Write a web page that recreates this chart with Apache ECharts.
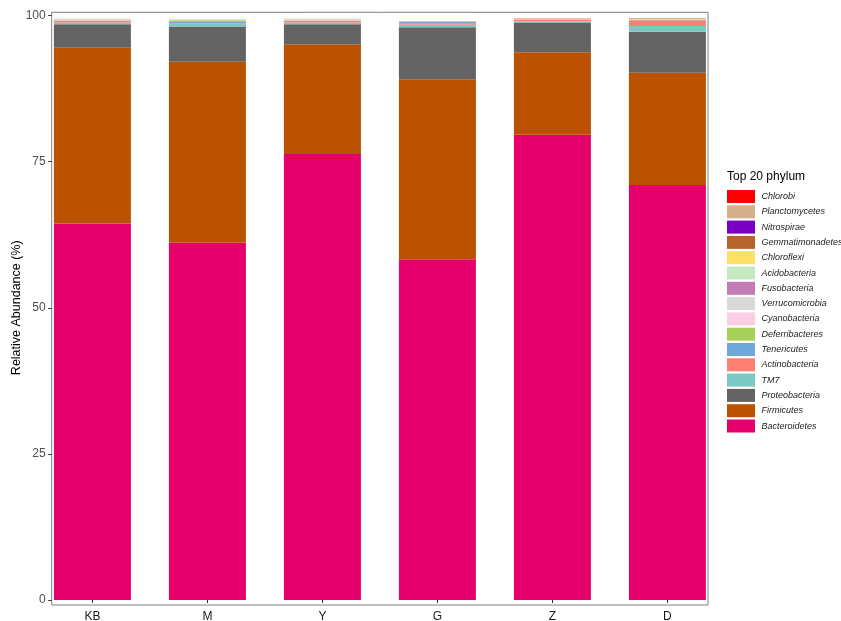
<!DOCTYPE html>
<html>
<head>
<meta charset="utf-8">
<script src="https://cdn.jsdelivr.net/npm/echarts@6/dist/echarts.min.js"></script>
<style>
html,body{margin:0;padding:0;background:#fff;}
#chart{width:841px;height:621px;}
</style>
</head>
<body>
<div id="chart"></div>
<script>
const categories = ['KB', 'M', 'Y', 'G', 'Z', 'D'];
const yTicks = [0, 25, 50, 75, 100];

// stacking order: bottom -> top
const phyla = ['Bacteroidetes', 'Firmicutes', 'Proteobacteria', 'TM7', 'Actinobacteria', 'Tenericutes',
  'Deferribacteres', 'Cyanobacteria', 'Verrucomicrobia', 'Fusobacteria', 'Acidobacteria', 'Chloroflexi',
  'Gemmatimonadetes', 'Nitrospirae', 'Planctomycetes', 'Chlorobi'];

const Bacteroidetes    = [64.4, 61.1, 76.3, 58.3, 79.6, 71.0];
const Firmicutes       = [30.1, 31.0, 18.8, 30.8, 14.1, 19.2];
const Proteobacteria   = [4.0, 6.0, 3.4, 8.9, 5.1, 7.0];
const TM7              = [0.3, 0.5, 0.3, 0.4, 0.2, 1.0];
const Actinobacteria   = [0.3, 0.1, 0.3, 0.2, 0.3, 1.0];
const Tenericutes      = [0.05, 0.3, 0.05, 0.3, 0.02, 0.05];
const Deferribacteres  = [0.02, 0.2, 0.02, 0.02, 0.02, 0.02];
const Cyanobacteria    = [0.05, 0.02, 0.05, 0.02, 0.02, 0.02];
const Verrucomicrobia  = [0.1, 0.02, 0.1, 0.02, 0.02, 0.02];
const Fusobacteria     = [0.01, 0.01, 0.01, 0.01, 0.01, 0.01];
const Acidobacteria    = [0.01, 0.01, 0.01, 0.01, 0.01, 0.01];
const Chloroflexi      = [0.02, 0.05, 0.02, 0.01, 0.05, 0.02];
const Gemmatimonadetes = [0.01, 0.01, 0.01, 0.01, 0.01, 0.01];
const Nitrospirae      = [0.005, 0.005, 0.005, 0.005, 0.005, 0.005];
const Planctomycetes   = [0.05, 0.02, 0.05, 0.01, 0.1, 0.2];
const Chlorobi         = [0.005, 0.005, 0.005, 0.005, 0.005, 0.005];

const values = {Bacteroidetes, Firmicutes, Proteobacteria, TM7, Actinobacteria, Tenericutes,
  Deferribacteres, Cyanobacteria, Verrucomicrobia, Fusobacteria, Acidobacteria, Chloroflexi,
  Gemmatimonadetes, Nitrospirae, Planctomycetes, Chlorobi};

const colors = {
  Chlorobi: '#FF0000', Planctomycetes: '#D4B08C', Nitrospirae: '#7A00C4', Gemmatimonadetes: '#B5652B',
  Chloroflexi: '#FFE066', Acidobacteria: '#C7E9C0', Fusobacteria: '#C27CB5', Verrucomicrobia: '#D9D9D9',
  Cyanobacteria: '#FCCDE5', Deferribacteres: '#A6D05A', Tenericutes: '#6FA8DC', Actinobacteria: '#FB8072',
  TM7: '#7BC8C0', Proteobacteria: '#636363', Firmicutes: '#BA5200', Bacteroidetes: '#E6006B'
};

const FONT = '"Liberation Sans", Arial, Helvetica, sans-serif';

const chart = echarts.init(document.getElementById('chart'), null, {renderer: 'canvas'});
chart.setOption({
  animation: false,
  backgroundColor: '#fff',
  title: {
    text: 'Top 20 phylum', left: 727, top: 171, padding: 0,
    textStyle: {fontFamily: FONT, fontSize: 12, fontWeight: 'normal', color: '#000'}
  },
  legend: {
    orient: 'vertical', left: 727, top: 190, padding: 0,
    itemWidth: 28, itemHeight: 13, itemGap: 2.3,
    icon: 'rect',
    data: phyla.slice().reverse(),
    textStyle: {fontFamily: FONT, fontSize: 9, fontStyle: 'italic', color: '#222', padding: [0, 0, 0, 1.5]},
    selectedMode: false
  },
  grid: [
    {left: 34.9, right: 116.1, top: 15.5, bottom: 21, containLabel: false, outerBoundsMode: 'none'},
    {left: 51.7, right: 133, top: 12.3, bottom: 16, show: true, borderColor: '#808080', borderWidth: 1,
     backgroundColor: 'transparent', z: 0, outerBoundsMode: 'none'}
  ],
  xAxis: [
    {
      type: 'category', gridIndex: 0, data: categories, offset: 5,
      axisLine: {show: false},
      axisTick: {show: true, alignWithLabel: true, length: 3, lineStyle: {color: '#333'}},
      axisLabel: {fontFamily: FONT, fontSize: 12, color: '#1a1a1a', margin: 6}
    },
    {type: 'value', gridIndex: 1, show: false, min: 0, max: 1}
  ],
  yAxis: [
    {
      type: 'value', gridIndex: 0, min: 0, max: 100, interval: 25, offset: -16.8,
      name: 'Relative Abundance (%)', nameLocation: 'middle', nameGap: 29, nameMoveOverlap: false,
      nameTextStyle: {fontFamily: FONT, fontSize: 12.5, color: '#000'},
      axisLine: {show: false},
      axisTick: {show: true, length: 3.5, lineStyle: {color: '#333'}},
      axisLabel: {fontFamily: FONT, fontSize: 12, color: '#4d4d4d', margin: 6,
        formatter: v => yTicks.includes(v) ? String(v) : ''},
      splitLine: {show: false}
    },
    {type: 'value', gridIndex: 1, show: false, min: 0, max: 1}
  ],
  series: phyla.map(p => ({
    name: p, type: 'bar', stack: 'total', xAxisIndex: 0, yAxisIndex: 0,
    barWidth: 77, data: values[p],
    itemStyle: {color: colors[p]},
    emphasis: {disabled: true}
  }))
});
</script>
</body>
</html>
